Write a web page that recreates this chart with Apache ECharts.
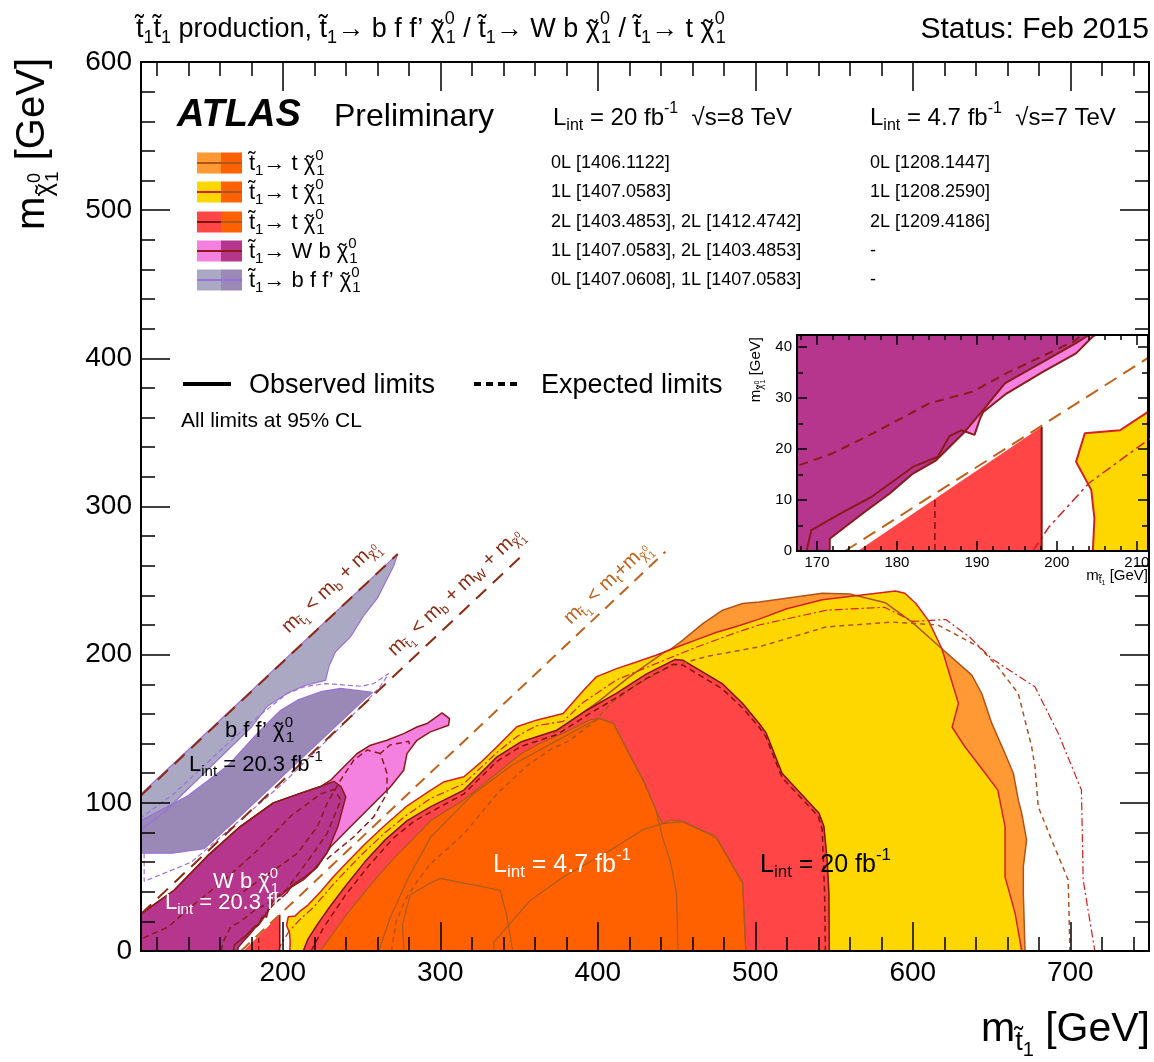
<!DOCTYPE html>
<html>
<head>
<meta charset="utf-8">
<title>Stop summary Feb 2015</title>
<script src="https://cdn.jsdelivr.net/npm/echarts@6/dist/echarts.min.js"></script>
<style>
  html, body { margin: 0; padding: 0; background: #fff; }
  #chart { width: 1154px; height: 1062px; }
</style>
</head>
<body>
<div id="chart"></div>
<script>
// ---- ticks ----
var xMajor = [200, 300, 400, 500, 600, 700];
var xMinor = [120, 140, 160, 180, 220, 240, 260, 280, 320, 340, 360, 380, 420, 440, 460, 480, 520, 540, 560, 580, 620, 640, 660, 680, 720, 740];
var insetXMajor = [170, 180, 190, 200, 210];
var insetXMinor = [168, 172, 174, 176, 178, 182, 184, 186, 188, 192, 194, 196, 198, 202, 204, 206, 208];
var insetYMajor = [0, 10, 20, 30, 40];
var insetYMinor = [5, 15, 25, 35];

// ---- kinematic limits (m_stop, m_chi) ----
var kinB = [[110, 105], [273, 268]];
var kinW = [[110, 25], [353, 268]];
var kinT = [[173.5, 0], [443, 269.5]];

// ---- stop -> b f f' chi ----
var bffLight = [[110, 106], [273, 268], [270.5, 260], [260, 238], [251.5, 226.5], [243, 212], [233.5, 202], [229.3, 192], [227.2, 182.7], [213.5, 179], [203, 174], [190, 165], [180, 151], [150, 120], [125, 94], [110, 82]];
var bffDark = [[110, 88], [140, 105], [165, 125], [184, 147], [198.7, 162.5], [209.3, 169.3], [224, 175], [236.7, 177.2], [253.6, 175], [257, 174.5], [252, 170], [200, 118], [170, 88], [150, 69], [130, 66], [110, 66]];
var bffExp = [[112, 66], [112, 47], [142, 60], [200, 113], [250, 165], [262, 178.7], [267.3, 187.3], [257.8, 180.5], [249.3, 178.7], [227.2, 180.5], [213.5, 178.3], [202.9, 173.8], [184, 158], [162.8, 137.8], [131.2, 106.4], [110, 90]];

// ---- stop -> W b chi ----
var wbPink = [[110, 0], [110, 25], [131, 41], [152, 64], [173, 84], [194, 100], [211, 106.4], [224, 111], [230.4, 115.3], [238.8, 124.3], [247.3, 133.3], [255.7, 138.9], [266.2, 142.2], [276.8, 146.7], [285.2, 151.2], [291.6, 153.5], [301.1, 160.7], [305.9, 156.8], [305.3, 152.4], [293.7, 147.9], [285.2, 142.2], [278.9, 133.2], [276.8, 122], [268.4, 110.8], [255.7, 97.3], [243, 83.8], [230.4, 70.3], [222, 56.8], [213, 48], [206, 43.5], [204.5, 42.1], [202.4, 38.8], [198.3, 35.2], [193.7, 30.9], [190.8, 27.3], [190.4, 26], [189.7, 22.8], [188.1, 23.7], [186.6, 22.6], [185.1, 18.5], [182, 16.5], [176.8, 10.6], [173.3, 7.7], [169.3, 4.1], [168.7, 0]];
var wbMag = [[110, 0], [110, 25], [131, 41], [152, 64], [173, 84], [194, 100], [211, 106.4], [224, 111], [232.5, 114.5], [237, 111], [240, 104], [235, 84], [228, 66], [220, 55], [214, 50], [207, 45], [203.7, 42.1], [202.4, 40.8], [193.5, 32.9], [190.8, 27.7], [188.3, 23.1], [184.9, 17.8], [182, 15.2], [179.1, 11.3], [176, 7.7], [173.5, 4.7], [171.6, 2.4], [171.6, 0]];
var wbExpA = [[160.7, 0], [163, 8], [167, 16.4], [172, 19.2], [177, 23.1], [184.1, 29], [189.5, 31.3], [193.7, 34.9], [199.9, 39.5], [202.4, 41.4], [216, 61], [228, 79], [237, 102], [232.5, 109], [224, 106], [205, 91], [184, 68], [163, 48], [142, 30], [127, 16], [114, 10], [110, 8]];
var wbExpB = [[228, 62], [232.5, 66], [245.1, 77.1], [257.8, 90.6], [266.2, 106.4], [266.2, 119.8], [262, 133.3], [268, 139], [280, 141.5], [281, 137.5]];
var wbExpB2 = [[262, 133.3], [253.6, 135.6], [245.1, 128.8], [236.7, 115.3], [228.2, 99.6], [221.9, 83.9], [209.3, 65.9], [194.5, 54.7], [173.4, 38.9], [160, 31]];

// ---- stop -> t chi ----
var tLO = [[214, 0], [222, 20], [235, 42], [252, 62], [270, 80], [294, 95], [320, 115], [345, 135], [371.8, 146.8], [400, 168], [420, 185], [441.4, 201], [446, 203.5], [454, 209.8], [466.7, 221], [479.3, 230], [492, 234.5], [502.5, 235.5], [542.6, 241.5], [560, 241], [582.7, 235], [599.5, 222], [618.5, 204], [637.5, 186.2], [643.8, 173.8], [650.2, 153.6], [658.6, 133.3], [663.9, 119.8], [667, 102], [669.2, 92.9], [672.3, 74.9], [670.2, 56.9], [670.2, 38.9], [671.3, 0]];
var tYel = [[204.5, 0], [204.7, 6.4], [204.3, 12], [202.4, 17.5], [203.5, 23.1], [207.9, 23.7], [211.4, 27.3], [216, 31], [224, 40], [232, 50], [241, 60], [252, 72], [264, 84], [279, 98], [294, 108.6], [302, 114], [315, 117.6], [325, 126.6], [336, 137.8], [348.6, 151.3], [361, 155.8], [378, 160.3], [391, 176], [399, 185], [412, 190.6], [424.5, 195], [437, 199.6], [450, 205], [462.5, 210], [475, 215], [488, 219], [502.5, 224], [520, 231], [542.6, 237], [565, 240], [589, 243], [595, 241.5], [602, 234.5], [610, 223], [618.5, 204], [629, 167], [625, 151], [633, 138], [646, 120], [654, 108.6], [658.6, 84], [658.6, 50], [665, 25.4], [669.2, 0]];
var tRed = [[213, 0], [216, 8], [222, 18], [230, 30], [240, 44], [252, 60], [265, 75], [279, 88], [294, 97.4], [315, 108.6], [336, 131], [351, 141], [374, 149], [393, 162.5], [412, 174], [431, 187], [449, 196.7], [454, 196.3], [479, 180.5], [492, 167], [502.5, 153.6], [507, 147], [517, 120], [540.5, 93], [543.6, 84], [545.7, 61], [546.8, 39], [547, 0]];
var tTri = [[175.1, 0], [198.1, 24.4], [198.1, 0]];
var tOr = [[224, 0], [232, 12], [243, 28], [256, 45], [270, 62], [283, 76], [294, 88], [315, 102], [336, 120], [351, 133], [363, 140], [378, 147], [395, 156], [401, 157], [410, 153.6], [420, 133], [429, 115], [437, 95], [441, 86], [446, 88.4], [454, 87.3], [475, 77], [492, 46], [494, 0]];
var orA = [[261, 0], [268, 22], [280, 50], [294, 77], [321, 106], [345, 125], [374, 142], [395, 154], [401, 157], [410, 153.6], [420, 133], [429, 115], [437, 95], [441, 77], [446, 61], [450, 39], [451, 0]];
var orB = [[334, 0], [334, 6], [357, 34], [378, 50], [408, 68], [429, 82], [441, 86], [454, 87.3], [475, 77], [492, 46], [494, 0]];
var orC = [[277, 0], [276, 18], [281, 38], [294, 46], [300, 49], [338, 41], [342, 25], [346, 0]];
var triV = [[198.1, 0], [198.1, 24.4]];
var triExp = [[184.75, 0], [184.75, 10.6]];
var exp0L = [[269, 0], [272, 20], [278, 35], [286, 48], [294, 59], [315, 79], [336, 106], [355, 125], [370, 136], [382, 142], [399, 156], [408, 167], [425, 180], [446, 192], [470, 199], [502.5, 205.3], [545, 218.7], [587, 222], [616, 220], [642, 205.3], [654, 191.8], [667, 173.8], [675.5, 137.8], [677.6, 124.3], [679.7, 97.3], [688.2, 74.9], [698.7, 47.9], [699.8, 0]];
var exp1L = [[197, 0], [199, 4.7], [204, 13.3], [211.4, 21.8], [220, 30], [232, 45], [250, 65], [265, 80], [279, 92], [294, 103], [315, 113], [336, 134], [349, 145], [361, 152], [378, 155], [391, 168], [412, 183], [437, 194], [462.5, 205], [488, 215], [502.5, 220], [545, 230], [582, 232], [600, 222.5], [621, 223.7], [636, 212], [650, 197.4], [677.6, 178.3], [692.4, 146.8], [707.1, 108.6], [708.2, 47.9], [715.6, 0]];
var exp2L = [[218, 0], [226, 16], [240, 38], [255, 58], [270, 76], [284, 88], [296, 95], [315, 106], [336, 128], [351, 138], [374, 146], [393, 159], [412, 171], [431, 184], [448, 193.5], [454, 193], [479, 177], [492, 164], [502.5, 151], [507, 144], [517, 117], [540, 91], [542.5, 82], [544, 40], [544.5, 0]];

// ---- text pieces ----
var T = 't\u0303';                           // stop (combining tilde)
var X = '{cx|\u03c7}{tl|\u02dc}';            // neutralino, full size
var XB = '{bcx|\u03c7}{btl|\u02dc}';         // neutralino, as a subscript
var legendLabels = [
  T + '{b|1}\u2192 t ' + X + '{z|0}{b|1}',
  T + '{b|1}\u2192 t ' + X + '{z|0}{b|1}',
  T + '{b|1}\u2192 t ' + X + '{z|0}{b|1}',
  T + '{b|1}\u2192 W b ' + X + '{z|0}{b|1}',
  T + '{b|1}\u2192 b f f\u2019 ' + X + '{z|0}{b|1}'
];
var cite8 = ['0L [1406.1122]', '1L [1407.0583]', '2L [1403.4853], 2L [1412.4742]', '1L [1407.0583], 2L [1403.4853]', '0L [1407.0608], 1L [1407.0583]'];
var cite7 = ['0L [1208.1447]', '1L [1208.2590]', '2L [1209.4186]', '-', '-'];

var FF = '"Liberation Sans", Arial, Helvetica, sans-serif';
var C = { lo: '#ff9933', yel: '#ffd700', red: '#ff4545', or: '#ff6000', pink: '#f480e0', mag: '#b5368c', bffL: '#aaa8c3', bffD: '#9a88b6' };
var L = { lo: '#b0541e', yel: '#d42020', red: '#7f1414', or: '#a95a22', wb: '#8b1a1a', bff: '#9a72d6', kin: '#8b2a12', kinT: '#c0621c' };

var M = { x: 0, y: 0 }, I = { x: 2, y: 2 };

function fill(pts, color, ax, z) {
  return {
    type: 'custom', xAxisIndex: ax.x, yAxisIndex: ax.y, clip: true, silent: true, z: z,
    data: [0],
    renderItem: function (params, api) {
      return { type: 'polygon', shape: { points: pts.map(function (p) { return api.coord(p); }) }, style: { fill: color } };
    }
  };
}
function path(pts, color, width, dash, ax, z) {
  return {
    type: 'line', xAxisIndex: ax.x, yAxisIndex: ax.y, data: pts, symbol: 'none', showSymbol: false,
    silent: true, clip: true, z: z, lineStyle: { color: color, width: width, type: dash }
  };
}
function closed(pts) { return pts.concat([pts[0]]); }

var mctx = document.createElement('canvas').getContext('2d');
function tw(s, size) { mctx.font = size + 'px ' + FF; return mctx.measureText(s).width; }

function richFor(S, c) {
  function tk(k, top, bot, w) {
    var o = { fontSize: Math.round(S * k), fontFamily: FF, fill: c, padding: [S * top, 0, S * bot, 0] };
    if (w != null) o.width = w;
    return o;
  }
  var sb = Math.round(S * 0.66);
  var wC = tw('\u03c7', S), wT = tw('\u02dc', S);
  var wCb = tw('\u03c7', sb), wTb = tw('\u02dc', sb);
  var pN = Math.max(0, (wC - wT) / 2), pB = Math.max(0, (wCb - wTb) / 2);
  return {
    b: tk(0.66, 0.6, 0),
    p: tk(0.66, 0, 0.78),
    z: tk(0.66, 0, 0.78, 1),
    bb: tk(0.48, 1.0, 0),
    bz: tk(0.45, 0.1, 0, 1),
    cx: { fontSize: S, fontFamily: FF, fill: c, width: 0 },
    tl: { fontSize: S, fontFamily: FF, fill: c, width: Math.max(0, wC - pN), padding: [S * 0.08, 0, 0, pN] },
    bcx: { fontSize: sb, fontFamily: FF, fill: c, width: 0, padding: [S * 0.6, 0, 0, 0] },
    btl: { fontSize: sb, fontFamily: FF, fill: c, width: Math.max(0, wCb - pB), padding: [S * 0.6 + sb * 0.08, 0, 0, pB] }
  };
}
// all text is laid out left-aligned; a right anchor is turned into a start point by measuring
function txt(x, y, str, size, color, o) {
  o = o || {};
  var rot = o.rot || 0;
  var style = {
    text: str, fontSize: size, fontFamily: FF, fill: color,
    fontWeight: o.weight || 'normal', fontStyle: o.style || 'normal',
    align: 'left', verticalAlign: 'middle', rich: richFor(size, color)
  };
  if (o.align === 'right') {
    var w = new echarts.graphic.Text({ style: Object.assign({}, style) }).getBoundingRect().width;
    x -= w * Math.cos(rot);
    y += w * Math.sin(rot);
  }
  return { type: 'text', x: x, y: y, rotation: rot, z: 100, silent: true, style: style };
}

function ax(grid, pos, min, max, ticks, len, label, z) {
  return {
    type: 'value', gridIndex: grid, position: pos, min: min, max: max, z: z,
    axisLine: { show: true, onZero: false, lineStyle: { color: '#000', width: 2 } },
    axisTick: { show: true, inside: true, length: len, customValues: ticks, lineStyle: { color: '#000', width: 1.5 } },
    axisLabel: label ? Object.assign({ customValues: ticks, fontFamily: FF, color: '#000' }, label) : { show: false },
    splitLine: { show: false }
  };
}
function mainY(pos, label) {
  return {
    type: 'value', gridIndex: 0, position: pos, min: 0, max: 600, interval: 100, z: 10,
    axisLine: { show: true, onZero: false, lineStyle: { color: '#000', width: 2 } },
    axisTick: { show: true, inside: true, length: 29, lineStyle: { color: '#000', width: 1.5 } },
    minorTick: { show: true, splitNumber: 5, length: 14, lineStyle: { color: '#000', width: 1.5 } },
    axisLabel: label ? { fontSize: 28, fontFamily: FF, color: '#000', margin: 9 } : { show: false },
    splitLine: { show: false }, minorSplitLine: { show: false }
  };
}

var gridMain = { left: 141, right: 5, top: 62, bottom: 111, outerBoundsMode: 'none', containLabel: false };
var gridInset = { left: 797, right: 6, top: 335, bottom: 511, outerBoundsMode: 'none', containLabel: false };

var option = {
  animation: false,
  backgroundColor: '#fff',
  grid: [
    gridMain,
    Object.assign({ show: true, backgroundColor: '#fff', borderWidth: 0, z: 20 }, gridInset),
    Object.assign({}, gridMain),
    Object.assign({}, gridInset)
  ],
  xAxis: [
    ax(0, 'bottom', 110, 750, xMajor, 29, { fontSize: 28, margin: 8 }, 10),
    ax(0, 'top', 110, 750, xMajor, 29, null, 10),
    ax(1, 'bottom', 167.5, 211.4, insetXMajor, 10, { fontSize: 15, margin: 4 }, 30),
    ax(1, 'top', 167.5, 211.4, insetXMajor, 10, null, 30),
    ax(2, 'bottom', 110, 750, xMinor, 14, null, 10),
    ax(2, 'top', 110, 750, xMinor, 14, null, 10),
    ax(3, 'bottom', 167.5, 211.4, insetXMinor, 5, null, 30),
    ax(3, 'top', 167.5, 211.4, insetXMinor, 5, null, 30)
  ],
  yAxis: [
    mainY('left', true),
    mainY('right', false),
    ax(1, 'left', 0, 42.4, insetYMajor, 10, { fontSize: 15, margin: 5 }, 30),
    ax(1, 'right', 0, 42.4, insetYMajor, 10, null, 30),
    { type: 'value', gridIndex: 2, min: 0, max: 600, show: false },
    ax(3, 'left', 0, 42.4, insetYMinor, 6, null, 30),
    ax(3, 'right', 0, 42.4, insetYMinor, 6, null, 30)
  ],
  series: [
    fill(bffLight, C.bffL, M, 2), fill(bffDark, C.bffD, M, 3),
    fill(wbPink, C.pink, M, 2), fill(wbMag, C.mag, M, 3),
    fill(tLO, C.lo, M, 2), fill(tYel, C.yel, M, 3), fill(tRed, C.red, M, 4), fill(tTri, C.red, M, 4), fill(tOr, C.or, M, 5),

    path(closed(bffLight), L.bff, 1.2, 'solid', M, 6),
    path(closed(bffDark), L.bff, 1.2, 'solid', M, 6),
    path(bffExp, L.bff, 1.2, [5, 3], M, 6),
    path(closed(wbPink), L.wb, 1.5, 'solid', M, 6),
    path(closed(wbMag), L.wb, 1.5, 'solid', M, 6),
    path(wbExpA, L.wb, 1.5, [6, 4], M, 6),
    path(wbExpB, L.wb, 1.5, [6, 4], M, 6),
    path(wbExpB2, L.wb, 1.5, [6, 4], M, 6),
    path(tLO.slice(8), L.lo, 1.5, 'solid', M, 6),
    path(closed(tYel), L.yel, 1.5, 'solid', M, 6),
    path(closed(tRed), L.red, 1.5, 'solid', M, 6),
    path(closed(tOr), L.or, 1.2, 'solid', M, 6),
    path(orA, L.or, 1.2, 'solid', M, 6),
    path(orB, L.or, 1.2, 'solid', M, 6),
    path(orC, L.or, 1.2, 'solid', M, 6),
    path(exp0L, L.lo, 1.5, [5, 4], M, 6),
    path(exp1L, L.yel, 1.2, [8, 3, 2, 3], M, 6),
    path(exp2L, L.red, 1.5, [6, 4], M, 6),
    path(triV, L.red, 1.5, 'solid', M, 6),
    path(triExp, L.red, 1.2, [5, 3], M, 6),
    path(kinB, L.kin, 2, [14, 9], M, 7),
    path(kinW, L.kin, 2, [14, 9], M, 7),
    path(kinT, L.kinT, 2, [12, 8], M, 7),

    fill(wbPink, C.pink, I, 21), fill(wbMag, C.mag, I, 22), fill(tTri, C.red, I, 23), fill(tYel, C.yel, I, 23),
    path(closed(wbPink), L.wb, 2, 'solid', I, 25),
    path(closed(wbMag), L.wb, 2, 'solid', I, 25),
    path(closed(tYel), L.yel, 2, 'solid', I, 25),
    path(wbExpA, L.wb, 2, [9, 6], I, 25),
    path(exp1L, L.yel, 1.5, [10, 4, 3, 4], I, 25),
    path(triV, L.red, 2, 'solid', I, 25),
    path(triExp, L.red, 1.5, [7, 4], I, 25),
    path(kinT, L.kinT, 2, [14, 8], I, 26)
  ]
};

var chart = echarts.init(document.getElementById('chart'), null, { renderer: 'canvas', width: 1154, height: 1062 });
chart.setOption(option);

// ---- annotations ----
var G = [];
G.push(txt(136, 30, T + '{b|1}' + T + '{b|1} production, ' + T + '{b|1}\u2192 b f f\u2019 ' + X + '{z|0}{b|1} / ' + T + '{b|1}\u2192 W b ' + X + '{z|0}{b|1} / ' + T + '{b|1}\u2192 t ' + X + '{z|0}{b|1}', 27, '#000'));
G.push(txt(1149, 30, 'Status: Feb 2015', 30, '#000', { align: 'right' }));
G.push(txt(177, 116, 'ATLAS', 38, '#000', { weight: 'bold', style: 'italic' }));
G.push(txt(334, 117, 'Preliminary', 32, '#000'));
G.push(txt(553, 118, 'L{b|int} = 20 fb{p|-1}  \u221As=8 TeV', 24, '#000'));
G.push(txt(870, 118, 'L{b|int} = 4.7 fb{p|-1}  \u221As=7 TeV', 24, '#000'));

var rowY = [163, 192, 222, 251, 280];
var boxL = [C.lo, C.yel, C.red, C.pink, C.bffL];
var boxR = [C.or, C.or, C.or, C.mag, C.bffD];
var lnL = [L.lo, L.yel, L.red, L.wb, L.bff];
var lnR = [L.or, L.or, L.or, L.wb, L.bff];
rowY.forEach(function (y, i) {
  G.push({ type: 'rect', z: 90, silent: true, shape: { x: 197, y: y - 10.5, width: 24, height: 21 }, style: { fill: boxL[i] } });
  G.push({ type: 'rect', z: 90, silent: true, shape: { x: 221, y: y - 10.5, width: 21, height: 21 }, style: { fill: boxR[i] } });
  G.push({ type: 'line', z: 91, silent: true, shape: { x1: 197, y1: y, x2: 221, y2: y }, style: { stroke: lnL[i], lineWidth: 2 } });
  G.push({ type: 'line', z: 91, silent: true, shape: { x1: 221, y1: y, x2: 242, y2: y }, style: { stroke: lnR[i], lineWidth: 2 } });
  G.push(txt(249, y + 1, legendLabels[i], 22, '#000'));
  G.push(txt(551, y, cite8[i], 18, '#000'));
  G.push(txt(870, y, cite7[i], 18, '#000'));
});

G.push({ type: 'line', z: 91, silent: true, shape: { x1: 183, y1: 384, x2: 231, y2: 384 }, style: { stroke: '#000', lineWidth: 4 } });
G.push(txt(249, 386, 'Observed limits', 27, '#000'));
G.push({ type: 'line', z: 91, silent: true, shape: { x1: 474, y1: 384, x2: 520, y2: 384 }, style: { stroke: '#000', lineWidth: 4, lineDash: [7, 5] } });
G.push(txt(541, 386, 'Expected limits', 27, '#000'));
G.push(txt(181, 421, 'All limits at 95% CL', 21, '#000'));

G.push(txt(493, 865, 'L{b|int} = 4.7 fb{p|-1}', 25, '#fff'));
G.push(txt(760, 865, 'L{b|int} = 20 fb{p|-1}', 25, '#000'));
G.push(txt(225, 731, 'b f f\u2019 ' + X + '{z|0}{b|1}', 22, '#000'));
G.push(txt(189, 765, 'L{b|int} = 20.3 fb{p|-1}', 22, '#000'));
G.push(txt(213, 882, 'W b ' + X + '{z|0}{b|1}', 22, '#fff'));
G.push(txt(165, 903, 'L{b|int} = 20.3 fb{p|-1}', 22, '#fff'));

G.push(txt(33, 58, 'm' + XB + '{bz|0}{bb|1} [GeV]', 40, '#000', { rot: Math.PI / 2, align: 'right' }));
G.push(txt(1150, 1030, 'm{b|' + T + '}{bb|1} [GeV]', 41, '#000', { align: 'right' }));
G.push(txt(756, 337, 'm' + XB + '{bz|0}{bb|1} [GeV]', 15, '#000', { rot: Math.PI / 2, align: 'right' }));
G.push(txt(1148, 576, 'm{b|' + T + '}{bb|1} [GeV]', 15, '#000', { align: 'right' }));

// kinematic labels, placed parallel to their lines
var p1 = chart.convertToPixel({ xAxisIndex: 0, yAxisIndex: 0 }, [200, 200]);
var p2 = chart.convertToPixel({ xAxisIndex: 0, yAxisIndex: 0 }, [300, 300]);
var ang = Math.atan2(p1[1] - p2[1], p2[0] - p1[0]);
function kinLabel(line, x0, d, str, color) {
  var a = line[0], b = line[1];
  var y0 = a[1] + (b[1] - a[1]) * (x0 - a[0]) / (b[0] - a[0]);
  var p = chart.convertToPixel({ xAxisIndex: 0, yAxisIndex: 0 }, [x0, y0]);
  return txt(p[0] - d * Math.sin(ang), p[1] - d * Math.cos(ang), str, 20, color, { rot: ang });
}
G.push(kinLabel(kinB, 211, 22, 'm{b|' + T + '}{bb|1} < m{b|b} + m' + XB + '{bz|0}{bb|1}', L.kin));
G.push(kinLabel(kinW, 277, 19, 'm{b|' + T + '}{bb|1} < m{b|b} + m{b|W} + m' + XB + '{bz|0}{bb|1}', L.kin));
G.push(kinLabel(kinT, 387.8, 17, 'm{b|' + T + '}{bb|1} < m{b|t}+m' + XB + '{bz|0}{bb|1}', L.kinT));

chart.setOption({ graphic: G });
</script>
</body>
</html>
